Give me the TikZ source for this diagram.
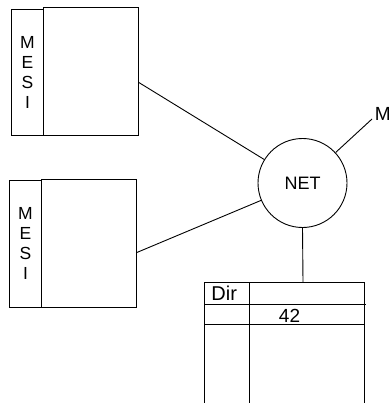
\documentclass[tikz,border=0pt]{standalone}
\usepackage{fontspec}
\setmainfont{Liberation Sans}
\usetikzlibrary{calc}
\begin{document}
\begin{tikzpicture}[x=1pt,y=-1pt,line width=0.9pt,
  box/.style={draw,rectangle,inner sep=0pt,anchor=north west},
  tag/.style={draw,rectangle,inner sep=0pt,anchor=north west,
    align=center,font=\fontsize{17.5}{20}\selectfont},
  lbl/.style={inner sep=0pt,font=\fontsize{19}{22}\selectfont},
  link/.style={draw}]
\useasboundingbox (0,0) rectangle (388,403);

% upper cache: state column and data block
\node[tag,minimum width=32pt,minimum height=126pt] (tagA) at (11,9) {M\\E\\S\\I};
\node[box,minimum width=95pt,minimum height=128pt] (cacheA) at (43,7) {};

% lower cache
\node[tag,minimum width=32pt,minimum height=127pt] (tagB) at (9,180) {M\\E\\S\\I};
\node[box,minimum width=95pt,minimum height=128pt] (cacheB) at (41,179) {};

% interconnect
\node[draw,circle,minimum size=89pt,inner sep=0pt,font=\fontsize{18}{20}\selectfont] (net) at (302.5,183) {NET};

% memory label, cut by the right border
\node[lbl,anchor=base west] (mem) at (374.5,121) {M};
\coordinate (memend) at (372,119);

% directory table
\node[box,minimum width=160pt,minimum height=140pt] (dir) at (204,282) {};
\coordinate (dirtop) at (303,282);
\draw (249,282) -- (249,422);
\draw (204,304) -- (366,304);
\draw (204,324) -- (364,324);
\node[lbl,anchor=base west,font=\fontsize{20}{22}\selectfont] (dirlbl) at (211,300.5) {Dir};
\node[lbl,anchor=base west] (num) at (278.5,322) {42};

% connections
\draw[link] ($(cacheA.south east)!0.414!(cacheA.north east)$) -- (net);
\draw[link] ($(cacheB.south east)!0.43!(cacheB.north east)$) -- (net);
\draw[link] (net) -- (memend);
\draw[link] (net.south) -- (dirtop);
\end{tikzpicture}
\end{document}
